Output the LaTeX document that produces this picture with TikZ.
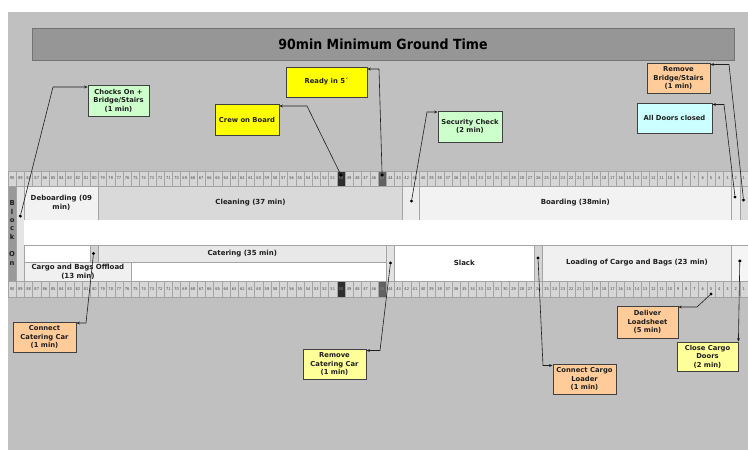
\documentclass[tikz,border=0pt]{standalone}
\usepackage{fontspec}
\setmainfont{DejaVu Sans}
\newfontfamily\condfont{DejaVu Sans Condensed}
\usepackage{tikz}
\usetikzlibrary{positioning, arrows.meta}
\definecolor{gBack}{HTML}{C0C0C0}
\definecolor{gTitle}{HTML}{969696}
\definecolor{gCell}{HTML}{D6D6D6}
\definecolor{gLine}{HTML}{A4A4A4}
\definecolor{gInk}{HTML}{1E1E1E}
\definecolor{evGreen}{HTML}{CCFFCC}
\definecolor{evYellow}{HTML}{FFFF00}
\definecolor{evPale}{HTML}{FFFF99}
\definecolor{evOrange}{HTML}{FFCC99}
\definecolor{evCyan}{HTML}{CCFFFF}
\tikzset{
  evbox/.style={draw=black!75, line width=0.8pt, font=\bfseries\fontsize{6.8}{8.6}\selectfont,
    align=center, inner sep=1pt, text=gInk},
  barcell/.style={draw=gLine, line width=0.5pt},
  barlabel/.style={font=\bfseries\fontsize{7}{8.6}\selectfont, align=center, text=gInk},
  rulenum/.style={font=\condfont\fontsize{4}{4}\selectfont, text=black!70, inner sep=0pt},
  blocklet/.style={font=\bfseries\fontsize{6.8}{7}\selectfont, text=gInk, inner sep=0pt},
  evdot/.style={circle, fill=black, inner sep=0pt, minimum size=3.4pt},
  evlink/.style={draw=gInk, line width=0.6pt, -{Stealth[length=3.5pt,width=2.8pt]}},
}

\begin{document}
\begin{tikzpicture}[x=1pt, y=-1pt]
  \useasboundingbox (0,0) rectangle (748,450);
  \fill[gBack] (8,12) rectangle (748,450);
  \node[draw=black!55, fill=gTitle, minimum width=702pt, minimum height=32pt,
    font=\condfont\bfseries\fontsize{14}{16}\selectfont] (title) at (383,44) {90min Minimum Ground Time};

  % minute rulers
  \foreach \m in {1,...,90}{
    \pgfmathsetmacro{\xl}{8+(90-\m)*8.2222}
    \pgfmathsetmacro{\xc}{\xl+4.1111}
    \draw[gLine, fill=gCell, line width=0.4pt] (\xl,171) rectangle ++(8.2222,15);
    \draw[gLine, fill=gCell, line width=0.4pt] (\xl,281) rectangle ++(8.2222,16);
    \node[rulenum] (t\m) at (\xc,178.5) {\m};
    \node[rulenum] (b\m) at (\xc,289) {\m};
  }
  \foreach \m/\c in {50/black!82, 45/black!62}{
    \pgfmathsetmacro{\xl}{8+(90-\m)*8.2222}
    \pgfmathsetmacro{\xc}{\xl+4.1111}
    \draw[gLine, fill=\c, line width=0.4pt] (\xl,171) rectangle ++(8.2222,15);
    \draw[gLine, fill=\c, line width=0.4pt] (\xl,281) rectangle ++(8.2222,16);
    \node[rulenum, text=black!45] (td\m) at (\xc,178.5) {\m};
    \node[rulenum, text=black!45] (bd\m) at (\xc,289) {\m};
  }

  % block on
  \draw[barcell, fill=black!40] (8,186) rectangle (16.22,281);
  \draw[barcell, fill=black!10] (16.22,186) rectangle (24.44,281);
  \foreach \ch/\y [count=\i] in {B/203, l/212, o/220.5, c/228.5, k/236.5, O/254, n/264}
    \node[blocklet] (blk\i) at (12.1,\y) {\ch};

  % first row
  \draw[barcell, fill=black!5] (24.44,186) rectangle (98.44,220);
  \draw[barcell, fill=black!15] (98.44,186) rectangle (402.67,220);
  \draw[barcell, fill=black!7] (402.67,186) rectangle (419.11,220);
  \draw[barcell, fill=black!5] (419.11,186) rectangle (731.56,220);
  \draw[barcell, fill=black!6] (731.56,186) rectangle (739.78,220);
  \draw[barcell, fill=black!14] (739.78,186) rectangle (748,220);
  \node[barlabel] (deboard) at (61.4,203) {Deboarding (09\\min)};
  \node[barlabel] (cleaning) at (250.5,203) {Cleaning (37 min)};
  \node[barlabel] (boarding) at (575.3,203) {Boarding (38min)};

  \fill[white] (24.44,220) rectangle (748,245);

  % second and third row
  \draw[barcell, fill=white] (24.44,245) rectangle (90.22,262);
  \draw[barcell, fill=black!18] (90.22,245) rectangle (98.44,262);
  \draw[barcell, fill=black!9] (98.44,245) rectangle (386.22,262);
  \draw[barcell, fill=black!6] (24.44,262) rectangle (131.33,281);
  \draw[barcell, fill=white] (131.33,262) rectangle (386.22,281);
  \draw[barcell, fill=black!11] (386.22,245) rectangle (394.44,281);
  \draw[barcell, fill=white] (394.44,245) rectangle (534.22,281);
  \draw[barcell, fill=black!17] (534.22,245) rectangle (542.44,281);
  \draw[barcell, fill=black!6] (542.44,245) rectangle (731.56,281);
  \draw[barcell, fill=black!4] (731.56,245) rectangle (748,281);
  \node[barlabel] (catering) at (242.3,253.5) {Catering (35 min)};
  \node[barlabel] (offload) at (77.9,271.5) {Cargo and Bags Offload\\(13 min)};
  \node[barlabel] (slack) at (464.3,263) {Slack};
  \node[barlabel] (loading) at (637,263) {Loading of Cargo and Bags (23 min)};

  % event boxes
  \node[evbox, fill=evGreen, minimum width=61pt, minimum height=31pt] (chocks) at (118.5,100.5) {Chocks On +\\Bridge/Stairs\\(1 min)};
  \node[evbox, fill=evYellow, minimum width=64pt, minimum height=31pt] (crew) at (247,119.5) {Crew on Board};
  \node[evbox, fill=evYellow, minimum width=81pt, minimum height=30pt] (ready) at (326.5,82) {Ready in 5´};
  \node[evbox, fill=evGreen, minimum width=64pt, minimum height=31pt] (security) at (470,126.5) {Security Check\\(2 min)};
  \node[evbox, fill=evCyan, minimum width=75pt, minimum height=30pt] (doors) at (674.5,118) {All Doors closed};
  \node[evbox, fill=evOrange, minimum width=63pt, minimum height=30pt] (bridge) at (678.5,78) {Remove\\Bridge/Stairs\\(1 min)};
  \node[evbox, fill=evOrange, minimum width=63pt, minimum height=30pt] (ccar) at (44.5,337) {Connect\\Catering Car\\(1 min)};
  \node[evbox, fill=evPale, minimum width=63pt, minimum height=30pt] (rcar) at (334.5,364) {Remove\\Catering Car\\(1 min)};
  \node[evbox, fill=evOrange, minimum width=63pt, minimum height=30pt] (loader) at (584.5,379) {Connect Cargo\\Loader\\(1 min)};
  \node[evbox, fill=evOrange, minimum width=61pt, minimum height=32pt] (loadsheet) at (647.5,322) {Deliver\\Loadsheet\\(5 min)};
  \node[evbox, fill=evPale, minimum width=61pt, minimum height=29pt] (cdoors) at (707.5,356.5) {Close Cargo\\Doors\\(2 min)};

  % markers
  \node[evdot] (dChocks) at (20.3,216) {};
  \node[evdot] (dCrew) at (340.9,175) {};
  \node[evdot] (dReady) at (382.1,175) {};
  \node[evdot] (dSecurity) at (411.5,201) {};
  \node[evdot] (dDoors) at (735,197) {};
  \node[evdot] (dBridge) at (743.5,200) {};
  \node[evdot] (dCcar) at (93.5,253.5) {};
  \node[evdot] (dRcar) at (390.5,263) {};
  \node[evdot] (dLoader) at (538,258) {};
  \node[evdot] (dLoadsheet) at (711,294) {};
  \node[evdot] (dCdoors) at (739.8,261) {};

  \coordinate (kChocks) at (53,87);
  \coordinate (kCrew) at (307,106);
  \coordinate (kReady) at (379,69);
  \coordinate (kSecurity) at (427,112);
  \coordinate (kDoors) at (724,104.5);
  \coordinate (kBridge) at (729,64.5);
  \coordinate (kCcar) at (86,323);
  \coordinate (kRcar) at (380,350.5);
  \coordinate (kLoader) at (543,365.5);
  \coordinate (kLoadsheet) at (697,307);

  \draw[evlink] (dChocks) -- (kChocks) -- (kChocks -| chocks.west);
  \draw[evlink] (dCrew) -- (kCrew) -- (kCrew -| crew.east);
  \draw[evlink] (dReady) -- (kReady) -- (kReady -| ready.east);
  \draw[evlink] (dSecurity) -- (kSecurity) -- (kSecurity -| security.west);
  \draw[evlink] (dDoors) -- (kDoors) -- (kDoors -| doors.east);
  \draw[evlink] (dBridge) -- (kBridge) -- (kBridge -| bridge.east);
  \draw[evlink] (dCcar) -- (kCcar) -- (kCcar -| ccar.east);
  \draw[evlink] (dRcar) -- (kRcar) -- (kRcar -| rcar.east);
  \draw[evlink] (dLoader) -- (kLoader) -- (kLoader -| loader.west);
  \draw[evlink] (dLoadsheet) -- (kLoadsheet) -- (kLoadsheet -| loadsheet.east);
  \draw[evlink] (dCdoors) -- (cdoors.north east);
\end{tikzpicture}
\end{document}
